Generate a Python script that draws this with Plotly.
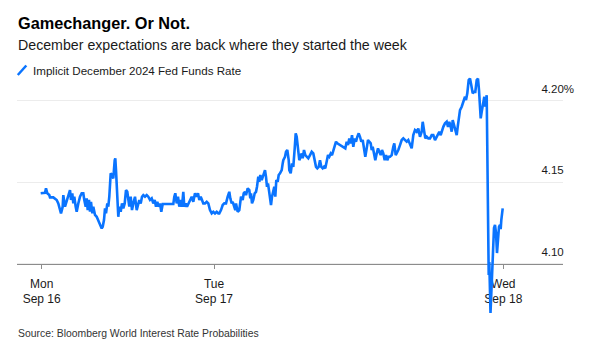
import plotly.graph_objects as go

# ---------------- data ----------------
# observation index (trading-time steps) and implied rate, Monday session
mon_obs = [0.0, 2.6, 4.3, 5.3, 6.6, 8.6, 9.3, 12.6, 14.3, 16.0, 17.6, 19.3, 20.3, 22.0, 22.6, 24.3,
           26.0, 27.6, 29.3, 30.3, 31.6, 32.6, 33.6, 35.0, 36.0, 37.6, 39.3, 41.0, 42.6, 43.6, 45.0,
           46.0, 47.0, 48.3, 49.3, 50.3, 51.6, 52.6, 54.3, 56.0, 57.6, 59.3, 61.0, 62.0, 63.3, 64.3,
           65.3, 66.6, 67.6, 68.6, 70.0, 71.3, 72.6, 74.0, 74.6, 75.3, 76.0, 77.0, 77.6, 78.6, 80.0,
           81.3, 82.6, 84.0, 85.3, 86.6, 87.6, 88.6, 90.0, 91.3, 92.6, 94.3, 96.0, 97.3, 98.6, 100.0,
           101.3, 102.6, 104.3, 106.0, 107.6, 109.3, 111.0, 112.6, 114.0, 115.3, 116.6, 118.0, 119.3,
           120.6, 122.0, 126.0, 129.3, 132.6, 133.6, 134.6, 136.0, 137.3, 138.6, 140.0, 141.3, 142.6,
           143.6, 145.0, 146.3, 147.6, 149.3, 151.0, 152.6, 154.3, 156.0, 157.3, 158.6, 160.0, 161.3,
           162.6, 164.3, 166.0, 167.6, 169.3, 171.0, 172.6]
mon_rate = [4.1433, 4.1433, 4.1436, 4.1463, 4.1433, 4.1422, 4.1408, 4.1408, 4.1402, 4.1392, 4.1371,
            4.1330, 4.1310, 4.1351, 4.1422, 4.1351, 4.1392, 4.1412, 4.1453, 4.1392, 4.1433, 4.1371,
            4.1412, 4.1351, 4.1320, 4.1371, 4.1412, 4.1433, 4.1433, 4.1392, 4.1351, 4.1402, 4.1330,
            4.1392, 4.1320, 4.1381, 4.1310, 4.1351, 4.1300, 4.1289, 4.1269, 4.1249, 4.1218, 4.1228,
            4.1269, 4.1341, 4.1310, 4.1371, 4.1351, 4.1412, 4.1555, 4.1545, 4.1524, 4.1636, 4.1647,
            4.1575, 4.1494, 4.1371, 4.1289, 4.1351, 4.1320, 4.1371, 4.1341, 4.1371, 4.1453, 4.1442,
            4.1392, 4.1351, 4.1412, 4.1330, 4.1371, 4.1412, 4.1330, 4.1371, 4.1392, 4.1371, 4.1412,
            4.1422, 4.1412, 4.1422, 4.1412, 4.1392, 4.1402, 4.1371, 4.1392, 4.1351, 4.1381, 4.1351,
            4.1371, 4.1320, 4.1367, 4.1367, 4.1367, 4.1367, 4.1412, 4.1433, 4.1371, 4.1412, 4.1351,
            4.1392, 4.1351, 4.1442, 4.1351, 4.1371, 4.1351, 4.1371, 4.1392, 4.1412, 4.1381, 4.1433,
            4.1412, 4.1433, 4.1392, 4.1412, 4.1392, 4.1371, 4.1371, 4.1381, 4.1371, 4.1330, 4.1310,
            4.1320]

# Tuesday session
tue_obs = [174.3, 176.0, 177.6, 178.6, 180.3, 182.0, 183.6, 185.3, 187.0, 188.6, 189.6, 191.0, 192.0,
           193.6, 194.6, 195.3, 197.0, 198.6, 199.3, 200.3, 202.0, 203.0, 204.3, 205.3, 207.0, 208.6,
           209.6, 210.3, 211.3, 212.6, 214.0, 215.3, 216.3, 217.6, 218.6, 219.6, 221.0, 222.0, 223.0,
           224.3, 225.3, 226.3, 227.3, 228.6, 229.3, 230.3, 231.3, 232.6, 233.6, 234.6, 235.6, 237.0,
           238.0, 239.3, 241.0, 242.0, 242.6, 244.3, 245.3, 246.6, 248.0, 248.6, 250.0, 251.3, 252.6,
           254.0, 255.0, 256.0, 257.0, 258.0, 258.6, 260.0, 261.0, 262.0, 263.3, 264.6, 266.0, 267.6,
           269.3, 271.0, 272.6, 274.3, 275.3, 276.6, 278.0, 279.3, 280.6, 282.0, 283.3, 284.6, 286.0,
           287.3, 288.6, 290.0, 291.3, 292.6, 294.0, 295.3, 296.6, 299.3, 302.6, 304.6, 306.0, 307.3,
           308.6, 310.0, 311.3, 312.6, 314.0, 315.3, 316.6, 318.0, 319.3, 320.6, 322.0, 323.3, 324.6,
           326.0, 327.3, 328.6, 330.0, 331.0, 332.0, 333.3, 334.6, 336.0, 337.3, 338.6, 340.0, 341.3,
           342.6, 344.0, 345.3, 346.6, 348.0, 349.3, 351.0, 352.6, 353.6, 355.0, 356.0, 357.6, 359.3,
           361.0, 362.6, 364.3, 366.0, 367.6, 369.3, 371.0, 372.6, 374.3, 376.0, 377.6, 379.3, 381.0,
           382.0, 383.3, 384.6, 386.0, 387.6, 389.3, 391.0, 392.6, 394.3, 396.0, 397.6, 398.6, 400.0,
           401.3, 402.6, 404.3, 406.0, 407.3, 408.6, 410.0, 411.0, 412.0, 413.3, 414.3, 416.0, 417.0,
           418.0, 419.3, 421.0, 422.6, 424.3, 425.3, 426.6, 428.0, 429.3, 430.6, 432.0, 433.3, 434.6,
           436.0, 437.3, 438.3, 439.3, 440.0, 441.0, 442.0, 442.6, 443.6, 444.6, 446.0]
tue_rate = [4.1310, 4.1320, 4.1310, 4.1310, 4.1330, 4.1361, 4.1371, 4.1371, 4.1412, 4.1442, 4.1402,
            4.1371, 4.1381, 4.1351, 4.1330, 4.1371, 4.1320, 4.1330, 4.1371, 4.1412, 4.1392, 4.1433,
            4.1442, 4.1422, 4.1463, 4.1453, 4.1402, 4.1433, 4.1371, 4.1392, 4.1433, 4.1442, 4.1473,
            4.1534, 4.1504, 4.1545, 4.1514, 4.1534, 4.1555, 4.1575, 4.1534, 4.1473, 4.1494, 4.1433,
            4.1392, 4.1361, 4.1412, 4.1453, 4.1473, 4.1412, 4.1514, 4.1504, 4.1545, 4.1555, 4.1575,
            4.1616, 4.1636, 4.1657, 4.1687, 4.1698, 4.1636, 4.1575, 4.1555, 4.1616, 4.1595, 4.1708,
            4.1800, 4.1779, 4.1728, 4.1677, 4.1636, 4.1657, 4.1677, 4.1647, 4.1698, 4.1667, 4.1657,
            4.1647, 4.1667, 4.1687, 4.1677, 4.1636, 4.1595, 4.1586, 4.1595, 4.1636, 4.1595, 4.1586,
            4.1595, 4.1586, 4.1636, 4.1667, 4.1657, 4.1677, 4.1667, 4.1698, 4.1718, 4.1749, 4.1739,
            4.1728, 4.1718, 4.1708, 4.1749, 4.1728, 4.1769, 4.1739, 4.1789, 4.1718, 4.1769, 4.1749,
            4.1779, 4.1800, 4.1779, 4.1749, 4.1759, 4.1718, 4.1657, 4.1708, 4.1759, 4.1749, 4.1739,
            4.1698, 4.1718, 4.1677, 4.1636, 4.1677, 4.1708, 4.1687, 4.1667, 4.1698, 4.1677, 4.1636,
            4.1667, 4.1636, 4.1657, 4.1657, 4.1667, 4.1718, 4.1739, 4.1667, 4.1677, 4.1698, 4.1728,
            4.1759, 4.1769, 4.1759, 4.1749, 4.1759, 4.1728, 4.1708, 4.1789, 4.1820, 4.1810, 4.1830,
            4.1779, 4.1810, 4.1871, 4.1820, 4.1769, 4.1779, 4.1769, 4.1769, 4.1789, 4.1789, 4.1759,
            4.1779, 4.1800, 4.1810, 4.1789, 4.1820, 4.1840, 4.1861, 4.1871, 4.1840, 4.1871, 4.1840,
            4.1810, 4.1881, 4.1851, 4.1820, 4.1789, 4.1840, 4.1892, 4.1942, 4.1963, 4.1993, 4.2024,
            4.2004, 4.2045, 4.2126, 4.2136, 4.2095, 4.2045, 4.2054, 4.2054, 4.2126, 4.2136, 4.2065,
            4.1963, 4.1892, 4.1932, 4.1963, 4.1983, 4.2024, 4.1963, 4.2034]

# after the Fed decision
fed_obs = [448.0, 448.6, 449.8, 451.3, 453.3, 454.3, 455.3, 456.3, 457.3, 458.3, 459.3, 460.0, 460.6,
           461.3, 462.0]
fed_rate = [4.0933, 4.1012, 4.0700, 4.0902, 4.1220, 4.1239, 4.1190, 4.1067, 4.1177, 4.1228, 4.1239,
            4.1214, 4.1269, 4.1312, 4.1341]

day_ticks = [1.0, 173.3, 462.6]
day_labels = ["Mon<br>Sep 16", "Tue<br>Sep 17", "Wed<br>Sep 18"]
rate_ticks = [4.10, 4.15, 4.20]
rate_labels = ["4.10", "4.15", "4.20%"]

title_text = "Gamechanger. Or Not."
subtitle_text = "December expectations are back where they started the week"
series_name = "Implicit December 2024 Fed Funds Rate"
source_text = "Source: Bloomberg World Interest Rate Probabilities"

# ---------------- layout constants ----------------
W, H = 589, 357
L, R, T, B = 17, 26, 70, 37
X_RANGE = [-23.7, 522.3]
Y_RANGE = [4.0657, 4.2188]
BLUE = "#0a74ff"
FONT = "Liberation Sans, Arial, Helvetica, sans-serif"

obs = mon_obs + tue_obs + fed_obs
rate = mon_rate + tue_rate + fed_rate

ghost = "<span style='color:rgba(0,0,0,0)'>%</span>"
y_text = [t if t.endswith("%") else t + ghost for t in rate_labels]

PW, PH = W - L - R, H - T - B


def fx(xpix):
    return (xpix - L) / PW


def fy(ypix):
    return (H - B - ypix) / PH


fig = go.Figure()
fig.add_trace(go.Scatter(x=obs, y=rate, mode="lines", name=series_name,
                         line=dict(color=BLUE, width=2.6), showlegend=False,
                         hoverinfo="skip"))

base_pos = (rate_ticks[0] - Y_RANGE[0]) / (Y_RANGE[1] - Y_RANGE[0])

fig.update_layout(
    width=W, height=H,
    margin=dict(l=L, r=R, t=T, b=B, pad=0, autoexpand=False),
    paper_bgcolor="white", plot_bgcolor="white",
    font=dict(family=FONT, color="#1a1a1a"),
    showlegend=False,
    xaxis=dict(range=X_RANGE, tickmode="array", tickvals=day_ticks, ticktext=day_labels,
               showgrid=False, zeroline=False, showline=True, linecolor="#8c8c8c", linewidth=1.2,
               ticks="outside", ticklen=4, tickwidth=1, tickcolor="#8c8c8c",
               anchor="free", position=base_pos, layer="below traces", ticklabelstandoff=4,
               tickfont=dict(size=12, color="#1a1a1a"), fixedrange=True),
    yaxis=dict(range=Y_RANGE, side="right", tickmode="array", tickvals=rate_ticks, ticktext=y_text,
               showgrid=True, gridcolor="#ececec", gridwidth=1, zeroline=False, showline=False,
               ticks="", ticklabelposition="inside", ticklabelstandoff=-14, ticklabelshift=-12,
               ticklabeloverflow="allow", tickfont=dict(size=11.5, color="#1a1a1a"), fixedrange=True),
)

ann = [
    dict(text="<b>" + title_text + "</b>", x=fx(17), y=fy(22.5), font=dict(size=16.3, color="#000")),
    dict(text=subtitle_text, x=fx(17), y=fy(45.5), font=dict(size=14.2, color="#1a1a1a")),
    dict(text=series_name, x=fx(31.5), y=fy(70), font=dict(size=11.6, color="#1a1a1a")),
    dict(text=source_text, x=fx(17), y=fy(333), font=dict(size=10.4, color="#333")),
]
for a in ann:
    fig.add_annotation(xref="paper", yref="paper", xanchor="left", yanchor="middle",
                       showarrow=False, align="left", borderpad=0, **a)

# legend swatch (diagonal stroke)
fig.add_shape(type="line", xref="paper", yref="paper", x0=fx(17.8), y0=fy(75), x1=fx(26.3), y1=fy(65.5),
              line=dict(color=BLUE, width=2.5))

fig.write_html("out.html", config={"displayModeBar": False, "staticPlot": True},
               post_script="document.body.style.margin='0px';")
